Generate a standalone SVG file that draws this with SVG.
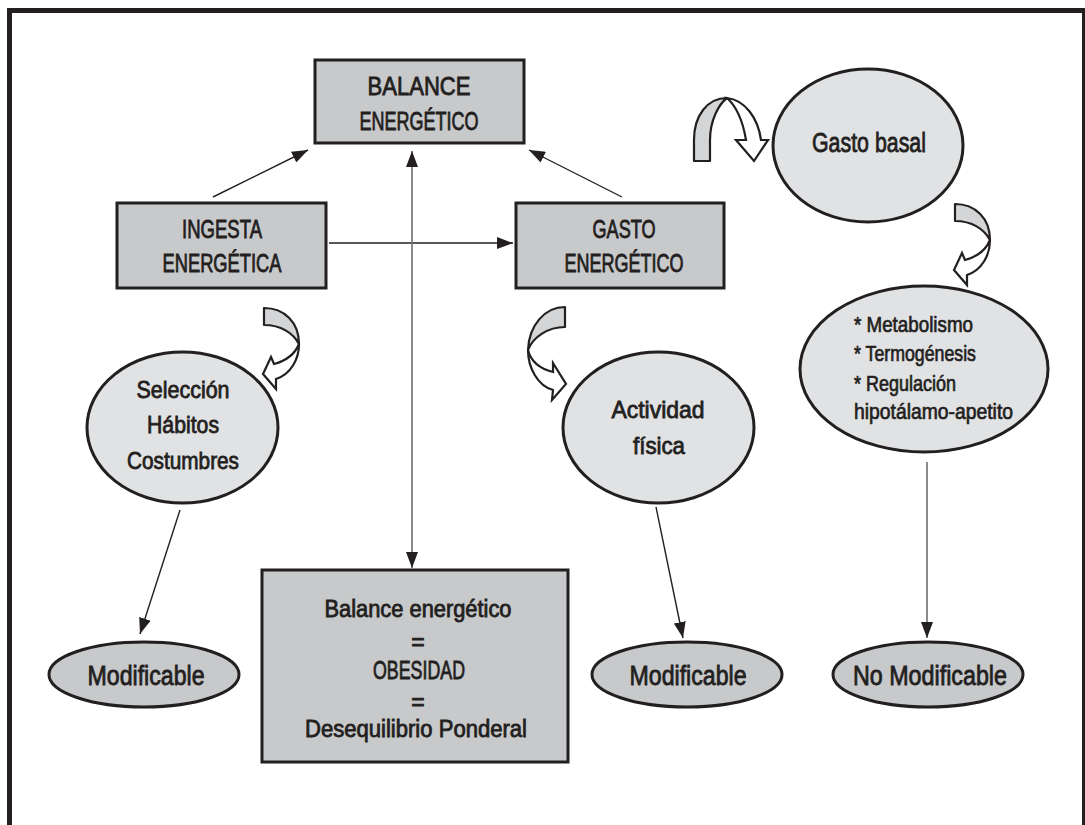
<svg xmlns="http://www.w3.org/2000/svg" width="1085" height="825" viewBox="0 0 1085 825">
<defs>
<style>
.box{fill:#c8c9cb;stroke:#231f20;stroke-width:3}
.ell{fill:#e1e2e4;stroke:#231f20;stroke-width:3}
.sm{fill:#c8c9cb;stroke:#231f20;stroke-width:3}
.t{font-family:"Liberation Sans",Arial,sans-serif;fill:#231f20;stroke:#231f20;stroke-width:0.8;text-anchor:middle}
.tl{font-family:"Liberation Sans",Arial,sans-serif;fill:#231f20;stroke:#231f20;stroke-width:0.7;text-anchor:start}
.ln{fill:none;stroke:#231f20;stroke-width:1.4}
.lg{fill:none;stroke:#6d6e71;stroke-width:1.6}
.gr{fill:#d4d5d7;stroke:#231f20;stroke-width:2.2;stroke-linejoin:round}
.wh{fill:#ffffff;stroke:#231f20;stroke-width:2.2;stroke-linejoin:miter}
</style>
<marker id="ah" markerUnits="userSpaceOnUse" markerWidth="16" markerHeight="12" refX="16" refY="6" orient="auto-start-reverse" viewBox="0 0 16 12">
<path d="M0,0 L16,6 L0,12 Z" fill="#231f20"/>
</marker>
<g id="curl">
<path class="gr" d="M955,204 C975,204 990,218 990,240 C984,229 972,221 955,221 Z"/>
<path class="wh" d="M990,240 C990,255 982,270 967,275 L967,285 L954,270 L962,253 L965,260 C976,257 986,250 990,240 Z"/>
</g>
</defs>
<rect x="9.5" y="10.5" width="1075" height="840" fill="#ffffff" stroke="#231f20" stroke-width="5"/>

<g id="connectors">
<line class="ln" x1="213" y1="197" x2="308" y2="150" marker-end="url(#ah)"/>
<line class="ln" x1="622" y1="197" x2="529" y2="150" marker-end="url(#ah)"/>
<line class="ln" x1="329" y1="243" x2="513" y2="243" marker-end="url(#ah)"/>
<line class="lg" x1="412" y1="151" x2="412" y2="568" marker-start="url(#ah)" marker-end="url(#ah)"/>
<line class="ln" x1="180" y1="510" x2="140" y2="634" marker-end="url(#ah)"/>
<line class="ln" x1="656" y1="507" x2="683" y2="638" marker-end="url(#ah)"/>
<line class="lg" x1="927" y1="462" x2="927" y2="638" marker-end="url(#ah)"/>
</g>

<g id="curl-top">
<path class="gr" d="M694,161 L694,140 C694,116 707,98 727,98 C719,104 710,120 710,140 L710,161 Z"/>
<path class="wh" d="M727,98 C745,100 758,118 761,140 L768,140 L754,161 L736,140 L746,140 C743,122 736,106 727,98 Z"/>
</g>
<g id="curl-right"><use href="#curl"/></g>
<g id="curl-ingesta"><use href="#curl" transform="translate(-691,104)"/></g>
<g id="curl-gasto">
<path class="gr" d="M565,307 C545,307 529,325 528,350 C533,337 548,327 565,327 Z"/>
<path class="wh" d="M528,350 C528,368 538,386 553,390 L552,400 L566,384 L553,363 L553,372 C541,369 531,362 528,350 Z"/>
</g>

<g id="balance">
<rect class="box" x="315" y="60" width="209" height="83"/>
<text class="t" font-size="25" x="419" y="95" textLength="103" lengthAdjust="spacingAndGlyphs">BALANCE</text>
<text class="t" font-size="25" x="419" y="130" textLength="119" lengthAdjust="spacingAndGlyphs">ENERGÉTICO</text>
</g>
<g id="ingesta">
<rect class="box" x="117" y="203" width="209" height="85"/>
<text class="t" font-size="25" x="222" y="238" textLength="80" lengthAdjust="spacingAndGlyphs">INGESTA</text>
<text class="t" font-size="25" x="222" y="272" textLength="119" lengthAdjust="spacingAndGlyphs">ENERGÉTICA</text>
</g>
<g id="gasto">
<rect class="box" x="516" y="203" width="208" height="85"/>
<text class="t" font-size="25" x="624" y="238" textLength="63" lengthAdjust="spacingAndGlyphs">GASTO</text>
<text class="t" font-size="25" x="624" y="272" textLength="119" lengthAdjust="spacingAndGlyphs">ENERGÉTICO</text>
</g>
<g id="gasto-basal">
<ellipse class="ell" cx="868" cy="145.5" rx="95" ry="76.5"/>
<text class="t" font-size="27" x="869" y="152" textLength="114" lengthAdjust="spacingAndGlyphs">Gasto basal</text>
</g>
<g id="metabolismo">
<ellipse class="ell" cx="924" cy="369" rx="124" ry="83"/>
<text class="tl" font-size="22" x="854" y="332" textLength="119" lengthAdjust="spacingAndGlyphs">* Metabolismo</text>
<text class="tl" font-size="22" x="854" y="361" textLength="122" lengthAdjust="spacingAndGlyphs">* Termogénesis</text>
<text class="tl" font-size="22" x="854" y="391" textLength="102" lengthAdjust="spacingAndGlyphs">* Regulación</text>
<text class="tl" font-size="22" x="854" y="419" textLength="159" lengthAdjust="spacingAndGlyphs">hipotálamo-apetito</text>
</g>
<g id="seleccion">
<ellipse class="ell" cx="182.5" cy="427.5" rx="95.5" ry="75.5"/>
<text class="t" font-size="24" x="183" y="398" textLength="93" lengthAdjust="spacingAndGlyphs">Selección</text>
<text class="t" font-size="24" x="183" y="433" textLength="72" lengthAdjust="spacingAndGlyphs">Hábitos</text>
<text class="t" font-size="24" x="183" y="469" textLength="112" lengthAdjust="spacingAndGlyphs">Costumbres</text>
</g>
<g id="actividad">
<ellipse class="ell" cx="658.5" cy="427.5" rx="95.5" ry="75.5"/>
<text class="t" font-size="24" x="658" y="418" textLength="93" lengthAdjust="spacingAndGlyphs">Actividad</text>
<text class="t" font-size="24" x="659" y="454" textLength="52" lengthAdjust="spacingAndGlyphs">física</text>
</g>
<g id="modificable-1">
<ellipse class="sm" cx="144" cy="674.5" rx="95" ry="32.5"/>
<text class="t" font-size="27" x="146" y="685" textLength="117" lengthAdjust="spacingAndGlyphs">Modificable</text>
</g>
<g id="modificable-2">
<ellipse class="sm" cx="687" cy="674.5" rx="95" ry="32.5"/>
<text class="t" font-size="27" x="688" y="685" textLength="117" lengthAdjust="spacingAndGlyphs">Modificable</text>
</g>
<g id="no-modificable">
<ellipse class="sm" cx="928" cy="674.5" rx="95" ry="32.5"/>
<text class="t" font-size="27" x="930" y="685" textLength="154" lengthAdjust="spacingAndGlyphs">No Modificable</text>
</g>
<g id="obesidad">
<rect class="box" x="262" y="570" width="306" height="192"/>
<text class="t" font-size="23" x="418" y="617" textLength="187" lengthAdjust="spacingAndGlyphs">Balance energético</text>
<text class="t" font-size="23" x="418" y="650">=</text>
<text class="t" font-size="25" x="419" y="679" textLength="92" lengthAdjust="spacingAndGlyphs">OBESIDAD</text>
<text class="t" font-size="23" x="418" y="710">=</text>
<text class="t" font-size="23" x="416" y="737" textLength="222" lengthAdjust="spacingAndGlyphs">Desequilibrio Ponderal</text>
</g>
</svg>
